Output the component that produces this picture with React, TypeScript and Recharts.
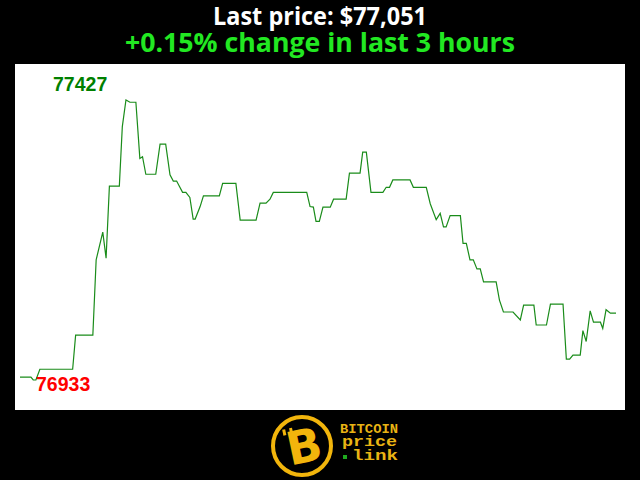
import { LineChart, Line, XAxis, YAxis } from 'recharts';

const headline = 'Last price: $77,051';
const changeText = '+0.15% change in last 3 hours';

// minutes since start of the 3 hour window
const minutes = [
  0, 3.3, 4, 4.8, 6, 15.9, 16.8, 22, 23, 25, 26, 27, 30, 30.9, 32, 33.2, 35, 36.2, 37, 38,
  41, 42.3, 44, 45.3, 46.3, 47.3, 49.1, 50.1, 51.3, 52.3, 52.9, 54.4, 55.4, 60.2, 61.2, 65.2,
  66.5, 71.3, 72.5, 74.3, 75.5, 76.5, 86.6, 87.6, 88.6, 89.4, 90.4, 91.5, 93.7, 94.7, 98.5,
  99.5, 102.7, 103.5, 104.6, 106, 109.6, 110.6, 111.6, 112.6, 117.8, 118.8, 122.7, 123.9,
  125.7, 126.9, 127.9, 128.7, 129.9, 133, 133.8, 134.8, 135.9, 136.9, 138, 139, 140, 143.8,
  144.8, 146, 148.9, 151.1, 152.1, 155.2, 155.9, 159, 160.2, 164, 165, 166, 167, 169.2, 170,
  171, 172.2, 173.2, 175.3, 176, 177, 178.3, 180,
];

const prices = [
  76938, 76938, 76933, 76933, 76952, 76952, 77012, 77012, 77145, 77194, 77148, 77275, 77275,
  77380, 77427, 77423, 77423, 77324, 77327, 77296, 77296, 77349, 77349, 77295, 77284, 77284,
  77264, 77264, 77255, 77217, 77217, 77239, 77258, 77258, 77280, 77280, 77215, 77215, 77245,
  77245, 77252, 77264, 77264, 77239, 77238, 77213, 77213, 77238, 77238, 77252, 77252, 77298,
  77298, 77335, 77335, 77264, 77264, 77273, 77273, 77286, 77286, 77273, 77273, 77244, 77216,
  77227, 77203, 77203, 77223, 77223, 77174, 77174, 77145, 77145, 77129, 77129, 77106, 77106,
  77074, 77053, 77053, 77039, 77065, 77065, 77030, 77030, 77067, 77067, 76970, 76970, 76977,
  76977, 77020, 77001, 77055, 77035, 77035, 77024, 77057, 77051, 77051,
];

const data = minutes.map((m, i) => ({ m, price: prices[i] }));
const hi = Math.max(...prices);
const lo = Math.min(...prices);

function Logo() {
  const gold = '#f2b50c';
  return (
    <g>
      <circle cx={302} cy={446} r={29} fill="#000" stroke={gold} strokeWidth={4} />
      <rect x={286} y={426} width={3} height={6} fill={gold} transform="rotate(-12 302 446)" />
      <rect x={293} y={426} width={3} height={6} fill={gold} transform="rotate(-12 302 446)" />
      <text
        x={304}
        y={463}
        textAnchor="middle"
        fontFamily="'DejaVu Sans', sans-serif"
        fontWeight={900}
        fontSize={46}
        fill={gold}
        transform="rotate(-12 302 446)"
      >
        B
      </text>
      <text x={340} y={433} fontFamily="'Liberation Mono', monospace" fontWeight={700} fontSize={12.5} fill="#e9b414" textLength={58} lengthAdjust="spacingAndGlyphs">
        BITCOIN
      </text>
      <text x={342} y={446} fontFamily="'Liberation Mono', monospace" fontWeight={700} fontSize={15} fill="#e9b414" textLength={55} lengthAdjust="spacingAndGlyphs">
        price
      </text>
      <rect x={343} y={455} width={4} height={4} fill="#1faa1f" />
      <text x={352} y={460} fontFamily="'Liberation Mono', monospace" fontWeight={700} fontSize={15} fill="#e9b414" textLength={46} lengthAdjust="spacingAndGlyphs">
        link
      </text>
    </g>
  );
}

export default function App() {
  return (
    <div style={{ position: 'fixed', left: 0, top: 0, width: 640, height: 480, background: '#000', overflow: 'hidden' }}>
      <svg width={640} height={480} style={{ position: 'absolute', left: 0, top: 0 }}>
        <text x={320} y={25} textAnchor="middle" fill="#fff" fontFamily="'Open Sans', sans-serif" fontWeight={700} fontSize={25} textLength={214} lengthAdjust="spacingAndGlyphs">
          {headline}
        </text>
        <text x={320} y={52} textAnchor="middle" fill="#22e822" fontFamily="'Open Sans', sans-serif" fontWeight={700} fontSize={27} textLength={390} lengthAdjust="spacingAndGlyphs">
          {changeText}
        </text>
        <rect x={15} y={64} width={610} height={346} fill="#fff" />
        <Logo />
      </svg>
      <div style={{ position: 'absolute', left: 15, top: 64 }}>
        <LineChart width={610} height={346} data={data} margin={{ top: 36, right: 9, bottom: 30, left: 5 }}>
          <XAxis dataKey="m" type="number" domain={[0, 180]} hide />
          <YAxis type="number" domain={[lo, hi]} hide />
          <Line
            type="linear"
            dataKey="price"
            stroke="#1a8c1a"
            strokeWidth={1.2}
            dot={false}
            activeDot={false}
            isAnimationActive={false}
          />
        </LineChart>
      </div>
      <svg width={640} height={480} style={{ position: 'absolute', left: 0, top: 0, pointerEvents: 'none' }}>
        <text x={53} y={91} fill="#008000" fontFamily="'Liberation Sans', Arial, sans-serif" fontWeight={700} fontSize={19.5}>
          {hi}
        </text>
        <text x={36} y={391} fill="#ff0000" fontFamily="'Liberation Sans', Arial, sans-serif" fontWeight={700} fontSize={19.5}>
          {lo}
        </text>
      </svg>
    </div>
  );
}
